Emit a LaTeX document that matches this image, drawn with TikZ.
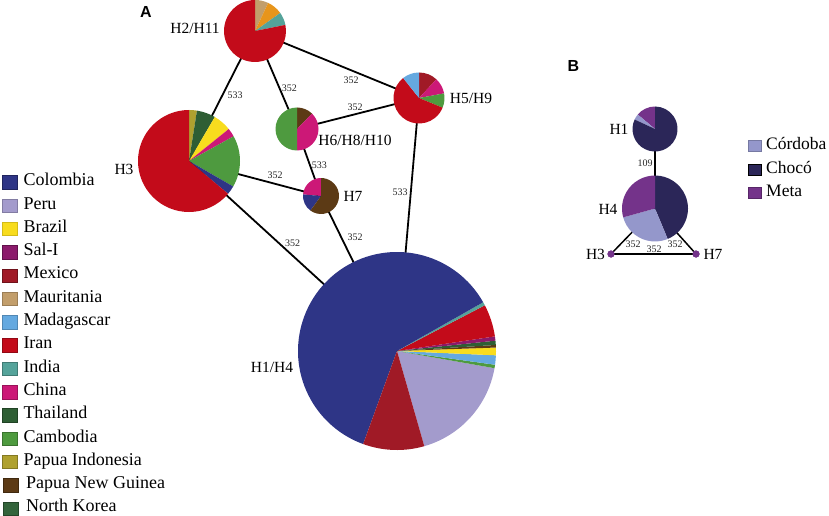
\documentclass[tikz,border=0pt]{standalone}
\usepackage{fontspec}
\setmainfont{Liberation Serif}
\newfontfamily\tnrfam{Liberation Serif}
\newfontfamily\arialfam{Liberation Sans}
\definecolor{cColombia}{HTML}{2E3586}
\definecolor{cPeru}{HTML}{A39BCC}
\definecolor{cBrazil}{HTML}{F8DC1E}
\definecolor{cSalI}{HTML}{8B1A6B}
\definecolor{cMexico}{HTML}{A01A26}
\definecolor{cMauritania}{HTML}{C29E6B}
\definecolor{cMadagascar}{HTML}{65A9E0}
\definecolor{cIran}{HTML}{C30B1A}
\definecolor{cIndia}{HTML}{55A39A}
\definecolor{cChina}{HTML}{CC1877}
\definecolor{cThailand}{HTML}{2E5E34}
\definecolor{cCambodia}{HTML}{4E9A3F}
\definecolor{cPapuaInd}{HTML}{AFA12F}
\definecolor{cPNG}{HTML}{5C3A15}
\definecolor{cNKorea}{HTML}{33643B}
\definecolor{cOrange}{HTML}{E7951C}
\definecolor{cCordoba}{HTML}{9497CB}
\definecolor{cChoco}{HTML}{2B2658}
\definecolor{cMeta}{HTML}{74338A}
\newcommand{\pslice}[5]{\fill[#5] (#1.center) -- ++(#3:#2) arc[start angle=#3, end angle=#4, radius=#2] -- cycle;}
\tikzset{
  pienode/.style={circle, inner sep=0pt, outer sep=0pt, minimum size=#1},
  edgeline/.style={line width=1.8pt, black},
  elab/.style={font=\tnrfam\fontsize{10}{12}\selectfont, inner sep=0pt, text=black!85},
  hlab/.style={font=\tnrfam\fontsize{15.5}{17}\selectfont, inner sep=0pt},
  legtext/.style={anchor=west, inner sep=0pt, font=\tnrfam\fontsize{18}{20}\selectfont, text height=0.68em, text depth=0pt},
  legtextb/.style={anchor=west, inner sep=0pt, font=\tnrfam\fontsize{17.5}{20}\selectfont, text height=0.68em, text depth=0pt},
  legbox/.style={minimum width=15pt, minimum height=13.5pt, inner sep=0pt, line width=0.5pt},
  legboxb/.style={minimum width=12.7pt, minimum height=11pt, inner sep=0pt, line width=0.5pt},
  panel/.style={font=\arialfam\bfseries\fontsize{16}{18}\selectfont, inner sep=0pt}
}
\begin{document}
\begin{tikzpicture}[x=1pt,y=1pt]
\useasboundingbox (0,0) rectangle (829,515);
% ---------- Panel A nodes ----------
\node[pienode=62pt]  (h2)  at (255,484) {};
\node[pienode=102pt] (h3)  at (189,354) {};
\node[pienode=43pt]  (h6)  at (297,386) {};
\node[pienode=51pt]  (h5)  at (419,417) {};
\node[pienode=36pt]  (h7)  at (321,319) {};
\node[pienode=198pt] (h14) at (397,164) {};
% edges A
\draw[edgeline] (h2.center) -- (h3.center);
\draw[edgeline] (h2.center) -- (h6.center);
\draw[edgeline] (h2.center) -- (h5.center);
\draw[edgeline] (h6.center) -- (h5.center);
\draw[edgeline] (h6.center) -- (h7.center);
\draw[edgeline] (h3.center) -- (h7.center);
\draw[edgeline] (h3.center) -- (h14.center);
\draw[edgeline] (h7.center) -- (h14.center);
\draw[edgeline] (h5.center) -- (h14.center);
% H2/H11
\pslice{h2}{31}{64.9}{90}{cMauritania}
\pslice{h2}{31}{35.6}{64.9}{cOrange}
\pslice{h2}{31}{11.4}{35.6}{cIndia}
\pslice{h2}{31}{90}{371.4}{cIran}
% H3
\pslice{h3}{51}{81}{90}{cPapuaInd}
\pslice{h3}{51}{59.6}{81}{cThailand}
\pslice{h3}{51}{38.8}{59.6}{cBrazil}
\pslice{h3}{51}{29}{38.8}{cChina}
\pslice{h3}{51}{-30}{29}{cCambodia}
\pslice{h3}{51}{-40}{-30}{cColombia}
\pslice{h3}{51}{90}{320}{cIran}
% H6/H8/H10
\pslice{h6}{21.5}{45.7}{90}{cPNG}
\pslice{h6}{21.5}{-90}{45.7}{cChina}
\pslice{h6}{21.5}{90}{270}{cCambodia}
% H5/H9
\pslice{h5}{25.5}{47}{90}{cMexico}
\pslice{h5}{25.5}{10.4}{47}{cChina}
\pslice{h5}{25.5}{-22.3}{10.4}{cCambodia}
\pslice{h5}{25.5}{128.4}{337.7}{cIran}
\pslice{h5}{25.5}{90}{128.4}{cMadagascar}
% H7
\pslice{h7}{18}{90}{175}{cChina}
\pslice{h7}{18}{175}{234}{cColombia}
\pslice{h7}{18}{234}{450}{cPNG}
% H1/H4
\pslice{h14}{99}{286}{350}{cPeru}
\pslice{h14}{99}{350}{352}{cCambodia}
\pslice{h14}{99}{352}{357.5}{cMadagascar}
\pslice{h14}{99}{357.5}{362}{cBrazil}
\pslice{h14}{99}{362}{363.5}{cPNG}
\pslice{h14}{99}{363.5}{366}{cThailand}
\pslice{h14}{99}{366}{368.5}{cSalI}
\pslice{h14}{99}{368.5}{387.5}{cIran}
\pslice{h14}{99}{387.5}{389.5}{cIndia}
\pslice{h14}{99}{29.5}{250}{cColombia}
\pslice{h14}{99}{250}{286}{cMexico}
% edge labels A
\node[elab] (e1) at (235,419.3) {533};
\node[elab] (e2) at (289.3,426.7) {352};
\node[elab] (e3) at (351,434.3) {352};
\node[elab] (e4) at (355,407.3) {352};
\node[elab] (e5) at (319.3,350) {533};
\node[elab] (e6) at (275,339.3) {352};
\node[elab] (e7) at (292.7,271.7) {352};
\node[elab] (e8) at (355,277.3) {352};
\node[elab] (e9) at (400,322.7) {533};
% node labels A
\node[hlab] (l2)  at (195,487) {H2/H11};
\node[hlab] (l5)  at (471,417) {H5/H9};
\node[hlab] (l6)  at (355,375) {H6/H8/H10};
\node[hlab] (l7)  at (353,319) {H7};
\node[hlab] (l3)  at (124,345.7) {H3};
\node[hlab] (l14) at (272,148) {H1/H4};
\node[panel] (pa) at (146,503) {A};
% legend A
\node[legbox, fill=cColombia, draw=cColombia!70!black]   (b1)  at (9.5,332.7) {};
\node[legtext] (t1)  at (23.3,332.7) {Colombia};
\node[legbox, fill=cPeru, draw=cPeru!80!black]           (b2)  at (9.5,309.4) {};
\node[legtext] (t2)  at (23.3,309.4) {Peru};
\node[legbox, fill=cBrazil, draw=cBrazil!85!black]       (b3)  at (9.5,286.1) {};
\node[legtext] (t3)  at (23.3,286.1) {Brazil};
\node[legbox, fill=cSalI, draw=cSalI!70!black]           (b4)  at (9.5,262.8) {};
\node[legtext] (t4)  at (23.3,262.8) {Sal-I};
\node[legbox, fill=cMexico, draw=cMexico!70!black]       (b5)  at (9.5,239.5) {};
\node[legtext] (t5)  at (23.3,239.5) {Mexico};
\node[legbox, fill=cMauritania, draw=cMauritania!80!black] (b6) at (9.5,216.2) {};
\node[legtext] (t6)  at (23.3,216.2) {Mauritania};
\node[legbox, fill=cMadagascar, draw=cMadagascar!80!black] (b7) at (9.5,192.9) {};
\node[legtext] (t7)  at (23.3,192.9) {Madagascar};
\node[legbox, fill=cIran, draw=cIran!75!black]           (b8)  at (9.5,169.6) {};
\node[legtext] (t8)  at (23.3,169.6) {Iran};
\node[legbox, fill=cIndia, draw=cIndia!75!black]         (b9)  at (9.5,146.3) {};
\node[legtext] (t9)  at (23.3,146.3) {India};
\node[legbox, fill=cChina, draw=cChina!75!black]         (b10) at (9.5,123.0) {};
\node[legtext] (t10) at (23.3,123.0) {China};
\node[legbox, fill=cThailand, draw=cThailand!70!black]   (b11) at (9.5,99.7) {};
\node[legtext] (t11) at (23.3,99.7) {Thailand};
\node[legbox, fill=cCambodia, draw=cCambodia!75!black]   (b12) at (9.5,76.4) {};
\node[legtext] (t12) at (23.3,76.4) {Cambodia};
\node[legbox, fill=cPapuaInd, draw=cPapuaInd!75!black]   (b13) at (9.5,53.1) {};
\node[legtext] (t13) at (23.3,53.1) {Papua Indonesia};
\node[legbox, fill=cPNG, draw=cPNG!70!black]             (b14) at (11,29.8) {};
\node[legtext] (t14) at (26,29.8) {Papua New Guinea};
\node[legbox, fill=cNKorea, draw=cNKorea!70!black]       (b15) at (11,6.5) {};
\node[legtext] (t15) at (26,6.5) {North Korea};
% ---------- Panel B ----------
\node[panel] (pb) at (573.3,449.3) {B};
\node[pienode=45pt] (bh1) at (655,386) {};
\node[pienode=66pt] (bh4) at (655,306.5) {};
\node[pienode=7pt, fill=cMeta] (bh3) at (611,261) {};
\node[pienode=7pt, fill=cMeta] (bh7) at (696,261) {};
\draw[edgeline, line width=1.5pt] (bh1.center) -- (bh4.center);
\draw[edgeline, line width=1.5pt] (bh4.center) -- (bh3.center);
\draw[edgeline, line width=1.5pt] (bh4.center) -- (bh7.center);
\draw[edgeline, line width=1.5pt] (bh3.center) -- (bh7.center);
\fill[cMeta] (bh3) circle[radius=3.6];
\fill[cMeta] (bh7) circle[radius=3.6];
\pslice{bh1}{22.5}{90}{140}{cMeta}
\pslice{bh1}{22.5}{140}{155}{cCordoba}
\pslice{bh1}{22.5}{155}{450}{cChoco}
\pslice{bh4}{33}{292.6}{450}{cChoco}
\pslice{bh4}{33}{195.6}{292.6}{cCordoba}
\pslice{bh4}{33}{90}{195.6}{cMeta}
\node[elab] (be1) at (645,352) {109};
\node[elab] (be2) at (633,270.7) {352};
\node[elab] (be3) at (654,266) {352};
\node[elab] (be4) at (675,270.7) {352};
\node[hlab] (bl1) at (619,385.7) {H1};
\node[hlab] (bl4) at (608,305.7) {H4};
\node[hlab] (bl3) at (595.5,261) {H3};
\node[hlab] (bl7) at (713,261) {H7};
% legend B
\node[legboxb, fill=cCordoba, draw=cCordoba!80!black] (bb1) at (754.7,369) {};
\node[legtextb] (bt1) at (766,369) {Córdoba};
\node[legboxb, fill=cChoco, draw=black] (bb2) at (754.7,345) {};
\node[legtextb] (bt2) at (766,345) {Chocó};
\node[legboxb, fill=cMeta, draw=cMeta!75!black] (bb3) at (754.7,322.3) {};
\node[legtextb] (bt3) at (766,322.3) {Meta};
\end{tikzpicture}
\end{document}
